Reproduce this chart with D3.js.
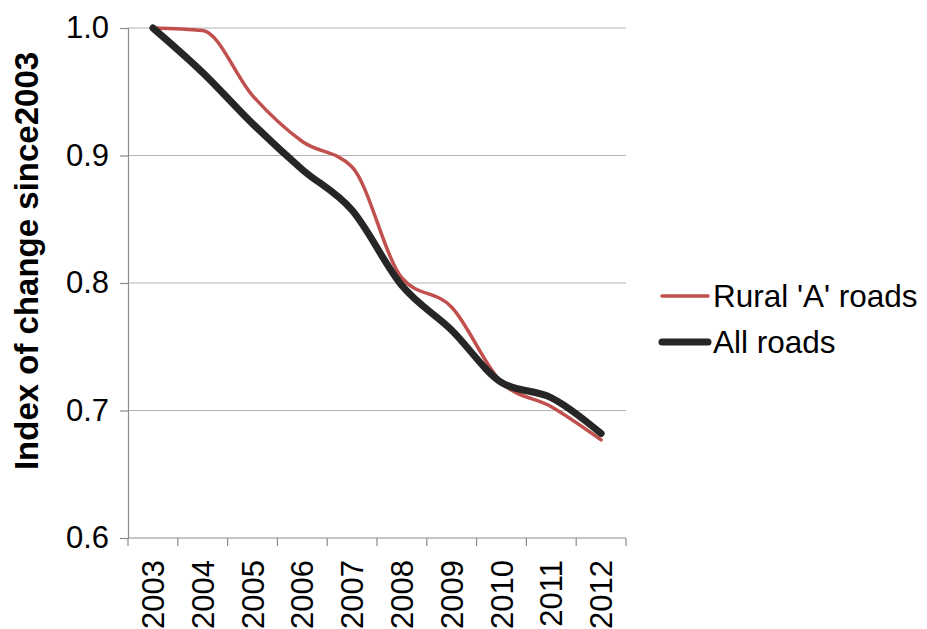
<!DOCTYPE html>
<html>
<head>
<meta charset="utf-8">
<script src="https://cdn.jsdelivr.net/npm/d3@7"></script>
<style>
  body { margin: 0; background: #fff; }
  text { font-family: "Liberation Sans", Arial, sans-serif; }
</style>
</head>
<body>
<div id="chart"></div>
<script>
// data
var years = ["2003","2004","2005","2006","2007","2008","2009","2010","2011","2012"];
var ruralA = [1.0, 0.998, 0.947, 0.911, 0.891, 0.804, 0.781, 0.722, 0.703, 0.677];
var allRoads = [1.0, 0.965, 0.925, 0.889, 0.857, 0.798, 0.763, 0.722, 0.710, 0.682];
var yTicks = [0.6, 0.7, 0.8, 0.9, 1.0];
var seriesNames = ["Rural 'A' roads", "All roads"];
var seriesColors = ["#C0504D", "#262626"];
var seriesWidths = [3.5, 7];

var W = 927, H = 629;
var margin = {top: 28, right: 301, bottom: 91, left: 128},
    width = W - margin.left - margin.right,
    height = H - margin.top - margin.bottom;

var svg = d3.select("#chart").append("svg")
  .attr("width", W).attr("height", H);
var g = svg.append("g")
  .attr("transform", "translate(" + margin.left + "," + margin.top + ")");

var x = d3.scaleBand().domain(years).range([0, width]);
var y = d3.scaleLinear().domain([0.6, 1.0]).range([height, 0]);

// gridlines
g.selectAll("gridLines")
  .data(yTicks.filter(function(d){ return d > 0.6; }))
  .enter().append("line")
    .attr("x1", 0).attr("x2", width)
    .attr("y1", function(d){ return y(d); })
    .attr("y2", function(d){ return y(d); })
    .attr("stroke", "#b3b3b3").attr("stroke-width", 1.2);

// y axis
var yAxis = g.append("g")
  .call(d3.axisLeft(y).tickValues(yTicks).tickSize(8).tickPadding(11)
        .tickFormat(d3.format(".1f")));
yAxis.selectAll("text").style("font-size", "31px").attr("fill", "#000");
yAxis.select(".domain").attr("stroke", "#8c8c8c").attr("stroke-width", 1.2);
yAxis.selectAll(".tick line").attr("stroke", "#8c8c8c").attr("stroke-width", 1.2);

// x axis: ticks on band boundaries
var xg = g.append("g").attr("transform", "translate(0," + height + ")");
xg.append("line").attr("x1", 0).attr("x2", width)
  .attr("stroke", "#8c8c8c").attr("stroke-width", 1.2);
var bounds = years.map(function(d){ return x(d); }).concat([width]);
xg.selectAll("xTicks").data(bounds).enter().append("line")
  .attr("x1", function(d){ return d; }).attr("x2", function(d){ return d; })
  .attr("y1", 0).attr("y2", 8)
  .attr("stroke", "#8c8c8c").attr("stroke-width", 1.2);
xg.selectAll("xLabels").data(years).enter().append("text")
  .attr("transform", function(d){
    return "translate(" + (x(d) + x.bandwidth()/2) + ",22) rotate(-90)";
  })
  .attr("dy", "0.36em")
  .style("text-anchor", "end")
  .style("font-size", "31px")
  .text(function(d){ return d; });

// lines
var line = d3.line()
  .x(function(d, i){ return x(years[i]) + x.bandwidth()/2; })
  .y(function(d){ return y(d); })
  .curve(d3.curveMonotoneX);

[ruralA, allRoads].forEach(function(vals, i){
  g.append("path")
    .datum(vals)
    .attr("d", line)
    .attr("fill", "none")
    .attr("stroke", seriesColors[i])
    .attr("stroke-width", seriesWidths[i])
    .attr("stroke-linecap", "round")
    .attr("stroke-linejoin", "round");
});

// y label
svg.append("text")
  .attr("transform", "translate(26,261) rotate(-90)")
  .attr("dy", "0.36em")
  .style("text-anchor", "middle")
  .style("font-size", "33px")
  .style("font-weight", "bold")
  .text("Index of change since2003");

// legend
var legend = svg.selectAll("legendItems").data(seriesNames).enter().append("g")
  .attr("transform", function(d, i){ return "translate(660," + (296 + i*46) + ")"; });
legend.append("line")
  .attr("x1", 2).attr("x2", 48)
  .attr("stroke", function(d, i){ return seriesColors[i]; })
  .attr("stroke-width", function(d, i){ return seriesWidths[i]; })
  .attr("stroke-linecap", "round");
legend.append("text")
  .attr("x", 53).attr("dy", "0.36em")
  .style("font-size", "31.5px")
  .text(function(d){ return d; });
</script>
</body>
</html>
